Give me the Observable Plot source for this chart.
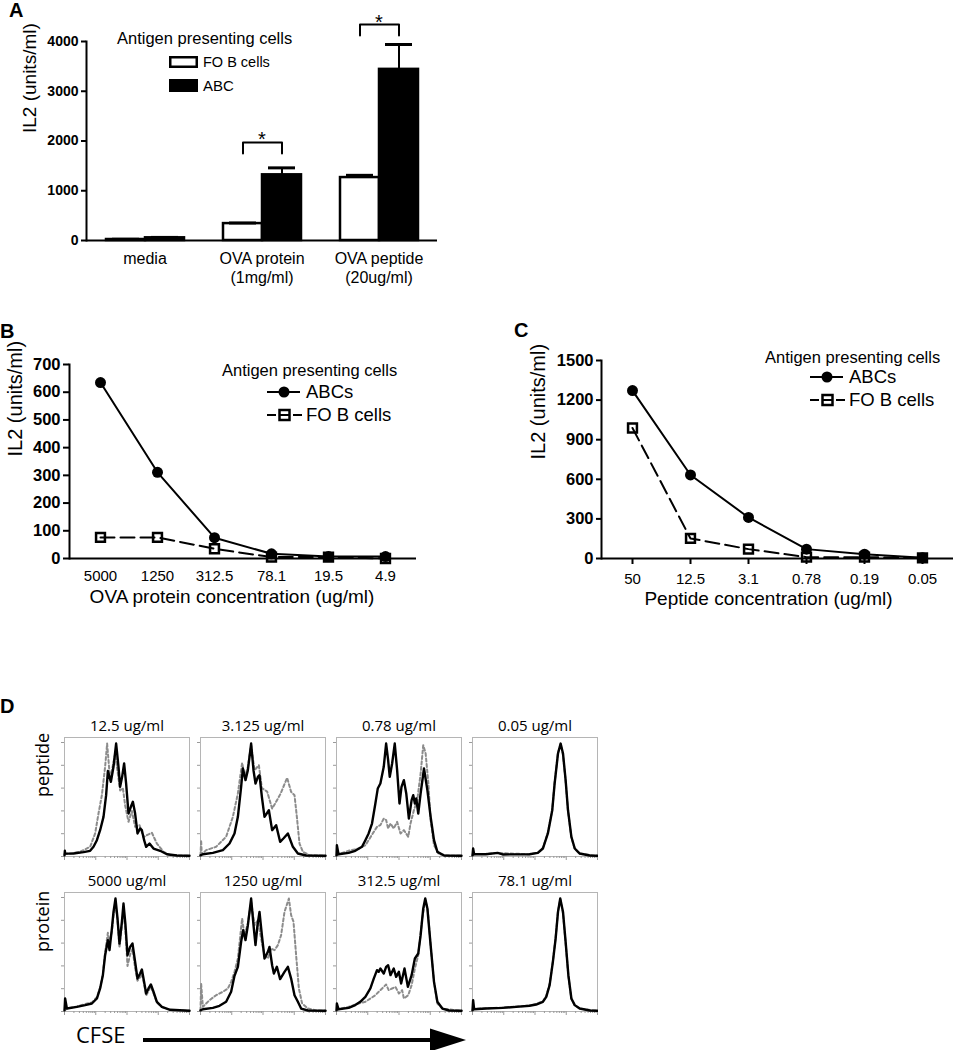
<!DOCTYPE html>
<html>
<head>
<meta charset="utf-8">
<script src="https://cdn.jsdelivr.net/npm/d3@7"></script>
<script src="https://cdn.jsdelivr.net/npm/@observablehq/plot@0.6"></script>
<style>
  body { margin: 0; background: #fff; }
  #fig { position: relative; width: 953px; height: 1050px; overflow: hidden; background: #fff; color: #000; }
</style>
</head>
<body>
<div id="fig"></div>
<script>
// ---------------- DATA ----------------
// Panel A: IL2 bars
const aGroups = ["media", "OVA protein", "OVA peptide"];
const aGroupLabels = ["media", "OVA protein\n(1mg/ml)", "OVA peptide\n(20ug/ml)"];
const aSeries = ["FO B cells", "ABC"];
const aFO = [20, 340, 1265];
const aFOErr = [5, 12, 45];
const aABC = [54, 1320, 3440];
const aABCErr = [8, 140, 500];
const aTicks = [0, 1000, 2000, 3000, 4000];
const aBracketGroups = ["OVA protein", "OVA peptide"];
const aBracketLeg = [1750, 4120];
const aBracketTop = [1970, 4340];
const aStar = [2020, 4390];

// Panel B: OVA protein titration
const bCats = ["5000", "1250", "312.5", "78.1", "19.5", "4.9"];
const bABC = [635, 311, 75, 17, 7, 7];
const bFO = [76, 76, 35, 5, 5, 0];
const bTicks = [0, 100, 200, 300, 400, 500, 600, 700];

// Panel C: peptide titration
const cCats = ["50", "12.5", "3.1", "0.78", "0.19", "0.05"];
const cABC = [1272, 633, 311, 71, 33, 5];
const cFO = [989, 152, 71, 10, 10, 5];
const cTicks = [0, 300, 600, 900, 1200, 1500];

// Panel D: CFSE histograms, [CFSE channel % of axis, % of max count]
const dCols = [0, 1, 2, 3];
const dRows = ["peptide", "protein"];
const dPeptideTitles = ["12.5 ug/ml", "3.125 ug/ml", "0.78 ug/ml", "0.05 ug/ml"];
const dProteinTitles = ["5000 ug/ml", "1250 ug/ml", "312.5 ug/ml", "78.1 ug/ml"];
const dYTicks = [0, 20, 40, 60, 80, 100];

const pep1Black = [[0,1],[0.3,5],[0.5,2.5],[7.2,2.6],[15.2,3.8],[20.5,5],[23.2,8.5],[25.9,14.3],[28.5,23.1],[31.2,34.8],[33.3,53.8],[34.7,75],[37.1,65.5],[39.2,78.7],[41.3,99.1],[43.2,78.7],[44.5,61.1],[46.1,69.9],[47.7,81.6],[49.3,64],[51.2,37.7],[53.1,43.6],[54.7,48],[56.5,37.7],[58.4,20.2],[60.5,24.6],[61.9,23.1],[63.7,14.3],[65.3,8.5],[68,11.4],[71.2,7],[76.5,5],[81.9,2],[89.9,0.9],[100,0.6]];
const pep1Gray = [[0,2],[12.5,4.1],[20.5,8.5],[24.5,20.2],[27.2,37.7],[29.9,53.8],[32.5,78.7],[34.1,99.1],[36.5,67],[38.7,80],[40.5,90],[42.4,75],[44.5,58],[46.7,60],[48.5,45],[51.2,30.4],[53.9,40],[56.5,26],[60,27.5],[63.2,17],[66.4,19],[69.9,20.8],[73.9,11.4],[79.2,4.1],[84.5,1.2],[100,0.6]];
const pep2Black = [[0,1],[1.9,2],[9.9,3.2],[17.9,5.6],[23.2,11.4],[27.2,20.2],[29.9,34.8],[32.5,61.1],[33.9,77.2],[36,67],[37.9,75.7],[40.5,99.1],[42.4,75.7],[44,64],[45.9,69.9],[47.2,71.3],[49.1,52.3],[51.2,34.8],[54.7,40.6],[57.3,23.1],[60.5,27.5],[63.7,12.9],[66.5,16],[69.9,20.2],[73.9,8.5],[77.9,2.6],[84.5,0.9],[100,0.6]];
const pep2Gray = [[0,1],[0.5,14.3],[1,2],[4.5,5.6],[12.5,8.5],[20.5,17.3],[25.9,34.8],[29.9,55.3],[33.3,82.2],[35.5,69.9],[37.9,78.7],[40.5,97.7],[43.2,75.7],[46.7,80.1],[49.1,60],[53.3,57],[57.3,42],[60.5,48],[64,55],[69.3,69],[72.5,56.7],[75.2,53.8],[77.1,34.8],[79.2,11.4],[81.9,4.1],[87.2,1.2],[100,0.6]];
const pep3Black = [[0,1],[0.3,9.9],[1.6,2],[9.7,3.2],[15,5],[20.4,8.5],[23.1,14.3],[25.7,20.2],[28.4,28.9],[31.1,46.5],[33,59.6],[35.1,64],[37.8,78.7],[39.7,99.1],[41.3,84.5],[42.6,69.9],[44.5,81.6],[46.6,99.1],[48.5,75.7],[50.4,46.5],[52,61.1],[53.9,67],[55.8,55.3],[57.9,33.3],[60.1,49.4],[61.4,53.8],[62.7,46.5],[63.8,50.9],[65.4,37.7],[67.3,55.3],[70,77.2],[72.7,58.2],[75.3,34.8],[78,14.3],[80.7,4.1],[86.1,0.9],[100,0.6]];
const pep3Gray = [[0,1],[1.6,2],[9.7,5],[17.7,7],[23.1,9.9],[25.7,14.3],[29.8,21.6],[32.4,26],[35.1,27.5],[37.8,33.3],[39.7,32],[41.3,24.6],[43.2,28.9],[45.8,24.6],[48.5,30.4],[51.2,20.2],[53.9,23.1],[57.4,17.3],[59.2,28.9],[61.9,40.6],[64.6,49.4],[67.3,72.8],[69.4,97.7],[71.3,90.4],[73.5,64],[75.3,31.9],[78,9.9],[82,2],[90,0.8],[100,0.6]];
const pep4Black = [[0,1],[0.5,7],[1.3,2],[10.7,2],[20.1,3.2],[24.1,1.8],[45.6,2],[52.3,3.2],[56.3,7],[60.3,20.2],[63.8,40.6],[65.7,64],[68.4,90.4],[70.5,99.1],[72.4,90.4],[74.5,67],[76.4,40.6],[79.1,17.3],[81.8,7],[85.8,2.6],[93.8,0.9],[100,0.6]];
const pep4Gray = [[0,1],[1.3,2],[10.7,2.3],[20.1,3],[45.6,2],[52.3,3.4],[56.3,7.5],[60.3,21],[63.8,41],[65.7,65],[68.4,91],[70.5,98.5],[72.4,89],[74.5,66],[76.4,40],[79.1,16.5],[81.8,6.8],[85.8,2.4],[100,0.6]];
const prot1Black = [[0,1],[0.5,11.4],[1.9,2.6],[9.9,4.1],[16.5,5.6],[21.9,7],[25.9,11.4],[28.5,20.2],[30.7,31.9],[32.5,49.4],[34.7,62.6],[36,53.8],[37.9,72.8],[39.2,87.4],[40.8,99.1],[42.4,81.6],[44,59.6],[45.9,78.7],[47.2,94.7],[48.8,75.7],[50.4,49.4],[52.5,56.7],[54.4,59.6],[56.5,43.6],[58.4,28.9],[60.5,33.3],[61.9,36.8],[63.7,26],[65.3,15.8],[67.2,20.2],[69.1,23.7],[71.2,17.3],[73.9,8.5],[77.9,4.1],[84.5,1.5],[100,0.6]];
const prot1Gray = [[0,1],[1.9,2.5],[9.9,4.5],[16.5,6.5],[21.9,8],[25.9,12.5],[28.5,21],[30.7,33],[32.5,52],[34.7,69],[36,60],[37.9,70],[39.2,84],[40.8,95],[42.4,80],[44,56],[45.9,75],[47.2,90],[48.8,70],[50.4,40],[52.5,50],[54.4,55],[56.5,38],[58.4,27],[60.5,30],[61.9,33],[63.7,24],[65.3,14],[67.2,18],[69.1,22],[71.2,16],[73.9,8],[77.9,4],[84.5,1.4],[100,0.6]];
const prot2Black = [[0,1],[1.9,2],[9.9,3.2],[15.2,5],[20.5,8.5],[24.5,17.3],[27.2,31.3],[29.9,39.2],[32.5,61.1],[34.1,71.3],[36,62.6],[37.9,75.7],[40.5,99.1],[42.4,75.7],[44,58.2],[45.6,75.7],[47.2,87.4],[49.1,67],[51.2,46.5],[53.9,52.3],[55.2,56.7],[57.3,40.6],[58.7,33.3],[61.1,39.2],[63.7,28.4],[67.2,34.8],[69.9,39.2],[72.5,28.9],[75.2,14.3],[77.9,8.5],[80.5,2.6],[85.9,0.9],[100,0.6]];
const prot2Gray = [[0,1],[0.5,24.6],[1.9,4.1],[7.2,9.9],[12.5,14.3],[17.9,17.3],[21.9,20.2],[24.5,26],[27.2,34.8],[29.9,46.5],[33.3,81.6],[35.2,67],[37.9,77.2],[40.5,96.2],[43.2,75.7],[45.9,80],[48.5,64],[51.2,49.4],[53.9,46.5],[56.5,55.3],[59.2,53.8],[61.9,58.2],[64.5,67],[67.2,87.4],[70.7,99.1],[72.5,84.5],[74.4,78.7],[76.5,49.4],[78.7,20.2],[81.3,7],[85.9,2.6],[92.5,0.9],[100,0.6]];
const prot3Black = [[0,1],[0.3,7],[1.6,2],[9.7,3.2],[15,5.6],[19,8.5],[23.1,12.9],[27.1,20.2],[29.8,28.9],[32.4,36.3],[33.8,34.8],[35.1,37.7],[37.8,33.3],[39.7,39.2],[41.3,40.6],[43.2,31.9],[45.8,37.7],[47.7,30.4],[49.9,34.8],[51.7,24.6],[54.4,37.7],[57.1,21.6],[60.1,31.9],[62.7,46.5],[65.4,50.9],[67.3,67],[69.4,90.4],[71,99.1],[72.7,90.4],[75.3,58.2],[78,26],[80.7,8.5],[84.7,2.6],[90.1,0.9],[100,0.6]];
const prot3Gray = [[0,1],[1.6,2],[9.7,4.1],[17.7,7],[23.1,8.5],[27.1,11.4],[31.1,14.3],[33.8,17.3],[36.5,20.2],[39.7,23.7],[41.8,18.7],[44.5,20.2],[47.2,21.6],[49.9,15.8],[52.5,18.7],[53.9,11.4],[57.4,14.3],[60.1,23.1],[62.7,37.7],[65.4,49.4],[68.6,81.6],[71,97.7],[72.9,90.4],[75.3,58.2],[78,26],[80.7,7],[85,2.4],[100,0.6]];
const prot4Black = [[0,1],[0.5,9.9],[1.3,2],[10.7,2.6],[24.1,3.2],[34.9,4.1],[45.6,5],[50.9,6.1],[56.3,8.5],[59,12.9],[61.7,23.1],[64.3,43.6],[66.5,64],[68.4,87.4],[70.2,99.1],[72.4,87.4],[74.5,61.1],[76.7,31.9],[79.1,11.4],[81.8,5.6],[85.8,2.6],[93.8,0.9],[100,0.6]];
const prot4Gray = [[0,1],[1.3,2.2],[10.7,2.8],[24.1,3.5],[34.9,4.3],[45.6,5.3],[50.9,6.5],[56.3,9],[59,13.5],[61.7,24],[64.3,44],[66.5,65],[68.4,88],[70.2,98.5],[72.4,86],[74.5,60],[76.7,31],[79.1,11],[81.8,5.4],[85.8,2.5],[100,0.6]];

// ---------------- LAYOUT ----------------
const fig = document.getElementById("fig");
function put(node, left, top) {
  node.style.position = "absolute";
  node.style.left = left + "px";
  node.style.top = top + "px";
  fig.appendChild(node);
}
const SANS = '"Liberation Sans", Arial, Helvetica, sans-serif';
const OPEN = '"Open Sans", "Noto Sans", sans-serif';

// ---------------- PANEL A ----------------
const aBars = aGroups.flatMap((g, i) => [
  {group: g, series: "FO B cells", value: aFO[i], top: aFO[i] + aFOErr[i]},
  {group: g, series: "ABC", value: aABC[i], top: aABC[i] + aABCErr[i]}
]);
const aBracketPts = aBracketGroups.flatMap((g, i) => [
  {group: g, series: "FO B cells", y: aBracketLeg[i]},
  {group: g, series: "FO B cells", y: aBracketTop[i]},
  {group: g, series: "ABC", y: aBracketTop[i]},
  {group: g, series: "ABC", y: aBracketLeg[i]}
]);
const aStars = aBracketGroups.map((g, i) => ({group: g, y: aStar[i]}));
const aLabelRows = aGroups.map((g, i) => ({group: g, label: aGroupLabels[i]}));

const plotA = Plot.plot({
  width: 450, height: 300,
  marginLeft: 85, marginRight: 13, marginTop: 41, marginBottom: 60,
  style: {fontFamily: SANS, color: "black", background: "white"},
  fx: {domain: aGroups, paddingInner: 0, paddingOuter: 0, axis: null},
  x: {domain: aSeries, paddingInner: 0, paddingOuter: 0.47, axis: null},
  y: {domain: [0, 4000], axis: null},
  marks: [
    Plot.barY(aBars.filter(d => d.series === "FO B cells"), {fx: "group", x: "series", y: "value", fill: "white", stroke: "black", strokeWidth: 2.5}),
    Plot.barY(aBars.filter(d => d.series === "ABC"), {fx: "group", x: "series", y: "value", fill: "black", stroke: "black", strokeWidth: 2.5}),
    Plot.ruleX(aBars, {fx: "group", x: "series", y1: "value", y2: "top", stroke: "black", strokeWidth: 2}),
    Plot.tickY(aBars, {fx: "group", x: "series", y: "top", stroke: "black", strokeWidth: 3, insetLeft: 6, insetRight: 6}),
    Plot.line(aBracketPts, {fx: "group", x: "series", y: "y", z: "group", stroke: "black", strokeWidth: 2}),
    Plot.text(aStars, {fx: "group", y: "y", text: () => "*", frameAnchor: "middle", fontSize: 20}),
    Plot.ruleY([0], {stroke: "black", strokeWidth: 2}),
    Plot.frame({anchor: "left", facetAnchor: "left", stroke: "black", strokeWidth: 2}),
    Plot.axisY({ticks: aTicks, tickFormat: d => String(d), tickSize: 5, tickPadding: 3, fontSize: 14, fontWeight: "bold", strokeWidth: 2, label: null}),
    Plot.text(aLabelRows, {fx: "group", text: "label", frameAnchor: "bottom", lineAnchor: "top", dy: 10, lineHeight: 1.2, fontSize: 16}),
    Plot.text(["IL2 (units/ml)"], {text: d => d, frameAnchor: "left", facetAnchor: "left", lineAnchor: "middle", dx: -57, dy: -8, rotate: -90, fontSize: 19})
  ]
});
put(plotA, 0, 0);

// ---------------- PANEL B ----------------
const bRowsABC = bCats.map((c, i) => ({cat: c, v: bABC[i]}));
const bRowsFO = bCats.map((c, i) => ({cat: c, v: bFO[i]}));
const plotB = Plot.plot({
  width: 430, height: 320,
  marginLeft: 69, marginRight: 14, marginTop: 64, marginBottom: 62,
  style: {fontFamily: SANS, color: "black", background: "white"},
  x: {type: "point", domain: bCats, padding: 0.5, axis: null},
  y: {domain: [0, 700], axis: null},
  marks: [
    Plot.ruleY([0], {stroke: "black", strokeWidth: 2}),
    Plot.frame({anchor: "left", stroke: "black", strokeWidth: 2}),
    Plot.axisY({ticks: bTicks, tickFormat: d => String(d), tickSize: 6, tickPadding: 3, fontSize: 16.5, fontWeight: "bold", strokeWidth: 2, label: null}),
    Plot.axisX({tickSize: 0, tickPadding: 12, fontSize: 15, label: null}),
    Plot.line(bRowsFO, {x: "cat", y: "v", stroke: "black", strokeWidth: 2, strokeDasharray: "14,6"}),
    Plot.line(bRowsABC, {x: "cat", y: "v", stroke: "black", strokeWidth: 2}),
    Plot.dot(bRowsABC, {x: "cat", y: "v", r: 5.5, fill: "black"}),
    Plot.dot(bRowsFO, {x: "cat", y: "v", symbol: "square", r: 5, fill: "none", stroke: "black", strokeWidth: 2.5}),
    Plot.text(["IL2 (units/ml)"], {text: d => d, frameAnchor: "left", lineAnchor: "middle", dx: -54, dy: -5, rotate: -90, fontSize: 20}),
    Plot.text(["OVA protein concentration (ug/ml)"], {text: d => d, frameAnchor: "bottom", lineAnchor: "middle", dx: -11, dy: 38, fontSize: 19})
  ]
});
put(plotB, 0, 300);

// ---------------- PANEL C ----------------
const cRowsABC = cCats.map((c, i) => ({cat: c, v: cABC[i]}));
const cRowsFO = cCats.map((c, i) => ({cat: c, v: cFO[i]}));
const plotC = Plot.plot({
  width: 473, height: 320,
  marginLeft: 121, marginRight: 0, marginTop: 60, marginBottom: 62,
  style: {fontFamily: SANS, color: "black", background: "white"},
  x: {type: "point", domain: cCats, padding: 0.5, axis: null},
  y: {domain: [0, 1500], axis: null},
  marks: [
    Plot.ruleY([0], {stroke: "black", strokeWidth: 2}),
    Plot.frame({anchor: "left", stroke: "black", strokeWidth: 2}),
    Plot.axisY({ticks: cTicks, tickFormat: d => String(d), tickSize: 5, tickPadding: 3, fontSize: 16.5, fontWeight: "bold", strokeWidth: 2, label: null}),
    Plot.axisX({tickSize: 6, tickPadding: 9, fontSize: 15, strokeWidth: 2, label: null}),
    Plot.line(cRowsFO, {x: "cat", y: "v", stroke: "black", strokeWidth: 2, strokeDasharray: "14,6"}),
    Plot.line(cRowsABC, {x: "cat", y: "v", stroke: "black", strokeWidth: 2}),
    Plot.dot(cRowsABC, {x: "cat", y: "v", r: 5.5, fill: "black"}),
    Plot.dot(cRowsFO, {x: "cat", y: "v", symbol: "square", r: 5, fill: "none", stroke: "black", strokeWidth: 2.5}),
    Plot.text(["IL2 (units/ml)"], {text: d => d, frameAnchor: "left", lineAnchor: "middle", dx: -63, rotate: -90, fontSize: 20}),
    Plot.text(["Peptide concentration (ug/ml)"], {text: d => d, frameAnchor: "bottom", lineAnchor: "middle", dx: -9, dy: 40, fontSize: 19})
  ]
});
put(plotC, 480, 300);

// ---------------- PANEL D ----------------
const dPanels = [
  {col: 0, row: "peptide", title: dPeptideTitles[0], black: pep1Black, gray: pep1Gray},
  {col: 1, row: "peptide", title: dPeptideTitles[1], black: pep2Black, gray: pep2Gray},
  {col: 2, row: "peptide", title: dPeptideTitles[2], black: pep3Black, gray: pep3Gray},
  {col: 3, row: "peptide", title: dPeptideTitles[3], black: pep4Black, gray: pep4Gray},
  {col: 0, row: "protein", title: dProteinTitles[0], black: prot1Black, gray: prot1Gray},
  {col: 1, row: "protein", title: dProteinTitles[1], black: prot2Black, gray: prot2Gray},
  {col: 2, row: "protein", title: dProteinTitles[2], black: prot3Black, gray: prot3Gray},
  {col: 3, row: "protein", title: dProteinTitles[3], black: prot4Black, gray: prot4Gray}
];
const dBlackRows = dPanels.flatMap(p => p.black.map(([x, y]) => ({col: p.col, row: p.row, x, y})));
const dGrayRows = dPanels.flatMap(p => p.gray.map(([x, y]) => ({col: p.col, row: p.row, x, y})));
const dTitleRows = dPanels.map(p => ({col: p.col, row: p.row, title: p.title}));
const dRowLabelRows = dRows.map(r => ({col: 0, row: r, label: r}));
// log-style decade ticks along the CFSE axis (4 decades)
const dMajorX = [0, 25, 50, 75, 100];
const dMinorX = [];
for (let dec = 0; dec < 4; dec++) for (let k = 2; k <= 9; k++) dMinorX.push(25 * (dec + Math.log10(k)));

const plotD = Plot.plot({
  width: 598, height: 350,
  marginLeft: 64, marginRight: 1, marginTop: 37, marginBottom: 38,
  style: {fontFamily: OPEN, color: "black", background: "white"},
  fx: {domain: dCols, paddingInner: 0.083, paddingOuter: 0, axis: null},
  fy: {domain: dRows, paddingInner: 0.2315, paddingOuter: 0, axis: null},
  x: {domain: [0, 100], axis: null},
  y: {domain: [0, 104.4], axis: null},
  marks: [
    Plot.frame({stroke: "#b5b5b5", strokeWidth: 1}),
    Plot.axisX({ticks: dMajorX, tickSize: 4, tickFormat: () => "", stroke: "#9a9a9a", facetAnchor: null, label: null}),
    Plot.axisX({ticks: dMinorX, tickSize: 2, tickFormat: () => "", stroke: "#9a9a9a", facetAnchor: null, label: null}),
    Plot.axisY({ticks: dYTicks, tickSize: 3, tickFormat: () => "", stroke: "#9a9a9a", facetAnchor: null, label: null}),
    Plot.line(dGrayRows, {fx: "col", fy: "row", x: "x", y: "y", stroke: "#8c8c8c", strokeWidth: 2, strokeDasharray: "3,2.5"}),
    Plot.line(dBlackRows, {fx: "col", fy: "row", x: "x", y: "y", stroke: "#000", strokeWidth: 2.4}),
    Plot.text(dTitleRows, {fx: "col", fy: "row", text: "title", frameAnchor: "top", lineAnchor: "middle", dy: -11, fontSize: 15}),
    Plot.text(dRowLabelRows, {fx: "col", fy: "row", text: "label", frameAnchor: "left", lineAnchor: "middle", dx: -21, rotate: -90, fontSize: 18})
  ]
});
put(plotD, 0, 700);

// ---------------- OVERLAY: panel letters, legends, CFSE arrow ----------------
const ov = d3.create("svg").attr("width", 953).attr("height", 1050)
  .style("pointer-events", "none");
function txt(s, x, y, size, opts = {}) {
  ov.append("text").attr("x", x).attr("y", y).attr("dy", "0.35em")
    .attr("font-family", opts.family || SANS).attr("font-size", size)
    .attr("font-weight", opts.weight || "normal").attr("fill", "black").text(s);
}
// panel letters
txt("A", 9, 10, 20, {weight: "bold"});
txt("B", 0, 330.5, 20, {weight: "bold"});
txt("C", 514, 330, 20, {weight: "bold"});
txt("D", 0, 705.5, 20, {weight: "bold"});

// legend A
txt("Antigen presenting cells", 117, 38, 16.5);
ov.append("rect").attr("x", 170.25).attr("y", 57.25).attr("width", 26.5).attr("height", 9.5)
  .attr("fill", "white").attr("stroke", "black").attr("stroke-width", 2.5);
ov.append("rect").attr("x", 169).attr("y", 79).attr("width", 29).attr("height", 13).attr("fill", "black");
txt(aSeries[0], 203, 62, 14.5);
txt(aSeries[1], 203, 86, 15);

// legends B and C
function lineLegend(x0, yHead, yAbc, yFo) {
  txt("Antigen presenting cells", x0, yHead, 16.5);
  const sx = x0 + 45;
  ov.append("line").attr("x1", sx).attr("x2", sx + 33).attr("y1", yAbc).attr("y2", yAbc)
    .attr("stroke", "black").attr("stroke-width", 2);
  ov.append("circle").attr("cx", sx + 17).attr("cy", yAbc).attr("r", 5.5).attr("fill", "black");
  txt("ABCs", sx + 39, yAbc, 18.5);
  ov.append("line").attr("x1", sx).attr("x2", sx + 35).attr("y1", yFo).attr("y2", yFo)
    .attr("stroke", "black").attr("stroke-width", 2).attr("stroke-dasharray", "9,4");
  ov.append("rect").attr("x", sx + 12.5).attr("y", yFo - 5).attr("width", 10).attr("height", 10)
    .attr("fill", "none").attr("stroke", "black").attr("stroke-width", 2.5);
  txt("FO B cells", sx + 39, yFo, 18.5);
}
lineLegend(222, 370, 392, 415);
lineLegend(765, 357, 377, 400);

// CFSE arrow
txt("CFSE", 76, 1035.5, 22, {family: OPEN});
ov.append("line").attr("x1", 143).attr("x2", 433).attr("y1", 1040).attr("y2", 1040)
  .attr("stroke", "black").attr("stroke-width", 4);
ov.append("path").attr("d", "M430,1028.5L466,1040L430,1051.5Z").attr("fill", "black");

put(ov.node(), 0, 0);
</script>
</body>
</html>
